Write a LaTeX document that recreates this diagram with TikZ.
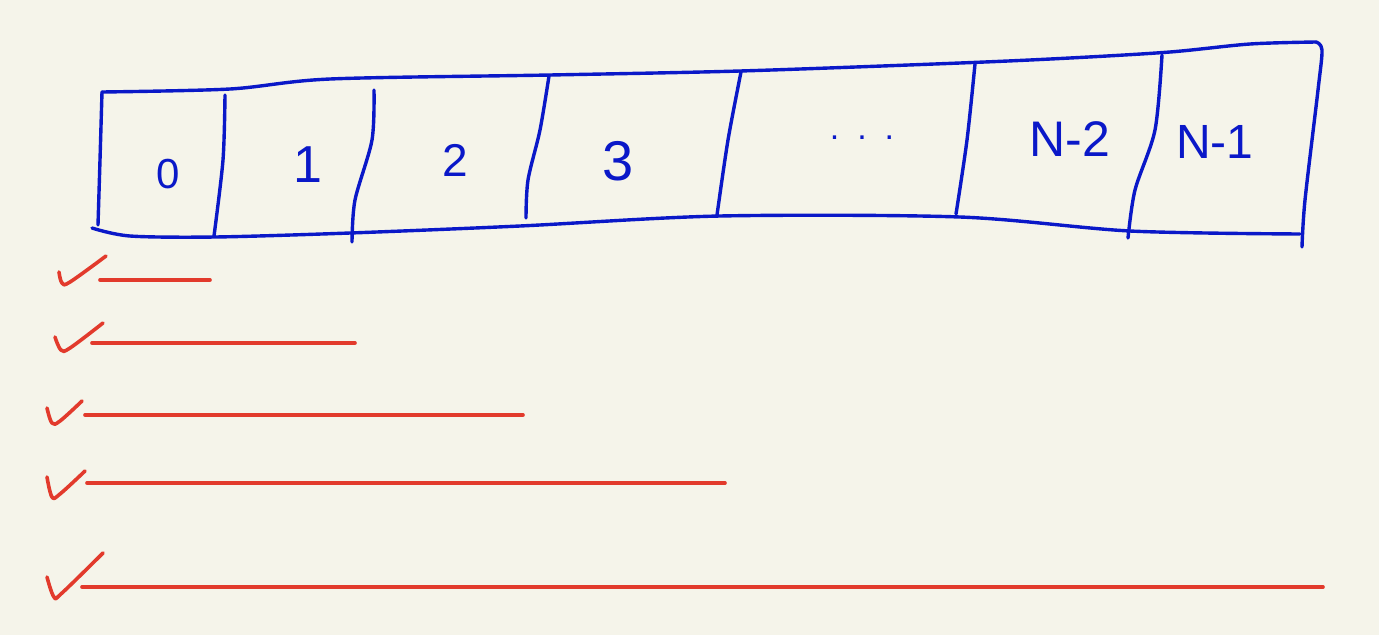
\documentclass[tikz,border=0pt]{standalone}
\usepackage{fontspec}
\setmainfont{Liberation Sans}
\begin{document}
\begin{tikzpicture}[x=1pt,y=-1pt,
  ink/.style={draw=inkblue,line width=3.4pt,line cap=round,line join=round},
  redline/.style={draw=inkred,line width=3.6pt,line cap=round,line join=round},
  lbl/.style={text=inkblue,inner sep=0pt,font=\fontsize{40}{44}\selectfont}]
\definecolor{paper}{HTML}{F5F4EA}
\definecolor{inkblue}{HTML}{0A18C8}
\definecolor{inkred}{HTML}{E23A2C}
\fill[paper] (0,0) rectangle (1379,635);
\useasboundingbox (0,0) rectangle (1379,635);
% outer box
\draw[ink] plot[smooth,tension=0.5] coordinates {(98,225) (100,160) (102,92)};
\draw[ink] plot[smooth,tension=0.5] coordinates {(102,92) (230,89) (330,79) (550,75) (740,71) (960,63) (1070,58) (1170,52) (1250,44) (1316,42)};
\draw[ink] plot[smooth,tension=0.5] coordinates {(1316,42) (1322,50) (1318,90) (1305,200) (1302,247)};
\draw[ink] plot[smooth,tension=0.5] coordinates {(92,228) (130,236) (215,237) (350,233) (520,226) (720,216) (960,217) (1130,231) (1300,234)};
% dividers
\draw[ink] plot[smooth,tension=0.5] coordinates {(225,95) (223,160) (214,236)};
\draw[ink] plot[smooth,tension=0.5] coordinates {(374,90) (372,140) (355,200) (352,242)};
\draw[ink] plot[smooth,tension=0.5] coordinates {(549,76) (540,130) (528,180) (526,218)};
\draw[ink] plot[smooth,tension=0.5] coordinates {(741,72) (728,140) (717,215)};
\draw[ink] plot[smooth,tension=0.5] coordinates {(975,64) (967,140) (956,214)};
\draw[ink] plot[smooth,tension=0.5] coordinates {(1162,55) (1155,130) (1135,190) (1128,238)};
% labels
\node[lbl,font=\fontsize{42}{44}\selectfont] (c0) at (168,174) {0};
\node[lbl,font=\fontsize{52}{56}\selectfont] (c1) at (308,165) {1};
\node[lbl,font=\fontsize{46}{50}\selectfont] (c2) at (455,160) {2};
\node[lbl,font=\fontsize{56}{60}\selectfont] (c3) at (618,161) {3};
\node[lbl,font=\fontsize{34}{40}\selectfont] (cdots) at (862,138) {.\hspace{18pt}.\hspace{18pt}.};
\node[lbl,font=\fontsize{50}{54}\selectfont] (cn2) at (1070,139) {N-2};
\node[lbl,font=\fontsize{48}{52}\selectfont] (cn1) at (1215,142) {N-1};
% checks and lines
\draw[redline] plot[smooth,tension=0.6] coordinates {(59,272) (62,283) (70,282) (106,256)};
\draw[redline] (100,280) -- (210,280);
\draw[redline] plot[smooth,tension=0.6] coordinates {(55,337) (61,350) (70,348) (103,323)};
\draw[redline] (92,343) -- (355,343);
\draw[redline] plot[smooth,tension=0.6] coordinates {(47,408) (52,423) (60,421) (82,401)};
\draw[redline] (85,415) -- (523,415);
\draw[redline] plot[smooth,tension=0.6] coordinates {(47,477) (52,497) (60,494) (85,471)};
\draw[redline] (87,483) -- (725,483);
\draw[redline] plot[smooth,tension=0.6] coordinates {(47,577) (54,597) (62,593) (103,553)};
\draw[redline] (82,587) -- (1323,587);
\end{tikzpicture}
\end{document}
